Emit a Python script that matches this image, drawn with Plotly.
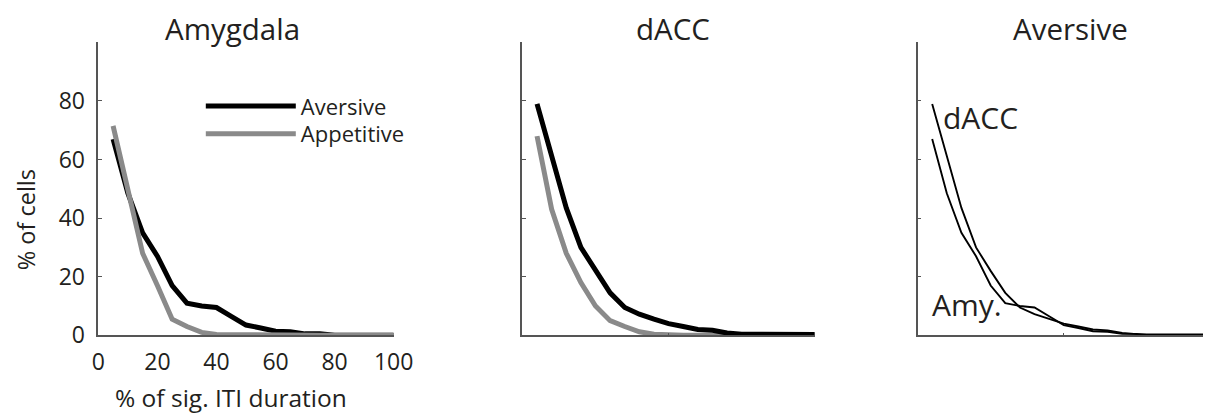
import plotly.graph_objects as go

# ---- data ----
x_pct = [5, 10, 15, 20, 25, 30, 35, 40, 45, 50, 55, 60, 65, 70, 75, 80, 85, 90, 95, 100]
amy_aversive = [67, 48.5, 35, 27, 17, 11, 10, 9.5, 6.5, 3.5, 2.5, 1.4, 1.2, 0.5, 0.5, 0, 0, 0, 0, 0]
amy_appetitive = [71.5, 49, 28, 17, 5.5, 3, 1, 0.3, 0.2, 0.1, 0, 0, 0, 0, 0, 0, 0, 0, 0, 0]
dacc_aversive = [79, 61, 43.5, 30, 22, 14.5, 9.5, 7.2, 5.5, 4, 3, 2, 1.7, 0.8, 0.4, 0.3, 0.3, 0.3, 0.3, 0.3]
dacc_appetitive = [68, 43, 28, 18, 10, 5, 3, 1.2, 0.4, 0, 0, 0, 0, 0, 0, 0, 0, 0, 0, 0]

panel_titles = ["Amygdala", "dACC", "Aversive"]
x_ticks = [0, 20, 40, 60, 80, 100]
y_ticks = [0, 20, 40, 60, 80]

# empirical mapping between figure pixels and the photographed picture
SX, BX = 0.98, 13.5
SY, BY = 0.968, 7.5
FW, FH = 1222, 423
FONT = "Open Sans"
TXT = "#231f20"
AX = "#555555"
BLACK = "#000000"
GREY = "#8a8a8a"

def px_x(p):
    return ((p - BX) / SX) / FW

def px_y(p):
    return 1 - ((p - BY) / SY) / FH

ydom = [px_y(336), px_y(42)]
xdoms = [[px_x(97), px_x(393)], [px_x(522), px_x(815)], [px_x(918), min(1.0, px_x(1211))]]

fig = go.Figure()

# Panel 1: Amygdala
fig.add_trace(go.Scatter(x=x_pct, y=amy_aversive, mode="lines", name="Aversive",
                         line=dict(color=BLACK, width=5), xaxis="x", yaxis="y", legend="legend"))
fig.add_trace(go.Scatter(x=x_pct, y=amy_appetitive, mode="lines", name="Appetitive",
                         line=dict(color=GREY, width=5), xaxis="x", yaxis="y", legend="legend2"))
# Panel 2: dACC
fig.add_trace(go.Scatter(x=x_pct, y=dacc_appetitive, mode="lines", name="Appetitive",
                         line=dict(color=GREY, width=5), xaxis="x2", yaxis="y2", showlegend=False))
fig.add_trace(go.Scatter(x=x_pct, y=dacc_aversive, mode="lines", name="Aversive",
                         line=dict(color=BLACK, width=5), xaxis="x2", yaxis="y2", showlegend=False))
# Panel 3: Aversive comparison
fig.add_trace(go.Scatter(x=x_pct, y=dacc_aversive, mode="lines", name="dACC",
                         line=dict(color=BLACK, width=1.9), xaxis="x3", yaxis="y3", showlegend=False))
fig.add_trace(go.Scatter(x=x_pct, y=amy_aversive, mode="lines", name="Amy.",
                         line=dict(color=BLACK, width=1.9), xaxis="x3", yaxis="y3", showlegend=False))

common_x = dict(range=[0, 100], showline=True, linecolor=AX, linewidth=1.5, zeroline=False,
                showgrid=False, fixedrange=True)
common_y = dict(range=[0, 100], showline=True, linecolor=AX, linewidth=1.5, zeroline=False,
                showgrid=False, ticks="inside", ticklen=4, tickcolor=AX, tickwidth=1,
                tickvals=y_ticks, fixedrange=True)

leg_common = dict(xanchor="left", yanchor="middle", bgcolor="rgba(0,0,0,0)",
                  font=dict(size=22, color=TXT, family=FONT), itemwidth=90)

fig.update_layout(
    width=FW, height=FH,
    margin=dict(l=0, r=0, t=0, b=0),
    paper_bgcolor="white", plot_bgcolor="white",
    font=dict(family=FONT, size=23, color=TXT),
    showlegend=True,
    legend=dict(x=px_x(199.7), y=px_y(106), **leg_common),
    legend2=dict(x=px_x(199.7), y=px_y(134), **leg_common),
    xaxis=dict(domain=xdoms[0], anchor="y", tickvals=x_ticks, ticks="", showticklabels=True,
               ticklabelstandoff=5, **common_x),
    yaxis=dict(domain=ydom, anchor="x", showticklabels=True, ticklabelstandoff=7, **common_y),
    xaxis2=dict(domain=xdoms[1], anchor="y2", tickvals=[50], ticks="inside", ticklen=3,
                tickcolor=AX, showticklabels=False, **common_x),
    yaxis2=dict(domain=ydom, anchor="x2", showticklabels=False, **common_y),
    xaxis3=dict(domain=xdoms[2], anchor="y3", tickvals=[50], ticks="inside", ticklen=3,
                tickcolor=AX, showticklabels=False, **common_x),
    yaxis3=dict(domain=ydom, anchor="x3", showticklabels=False, **common_y),
)

ann = []
title_pos = [(231, 28), (673, 28), (1071, 28)]
for t, (cx, cy) in zip(panel_titles, title_pos):
    ann.append(dict(text=t, x=px_x(cx), y=px_y(cy), xref="paper", yref="paper",
                    xanchor="center", yanchor="middle", showarrow=False,
                    font=dict(size=29.5, family=FONT, color=TXT)))
ann.append(dict(text="% of sig. ITI duration", x=px_x(230), y=px_y(398), xref="paper", yref="paper",
                xanchor="center", yanchor="middle", showarrow=False,
                font=dict(size=24.5, family=FONT, color=TXT)))
ann.append(dict(text="% of cells", x=px_x(24), y=px_y(220), xref="paper", yref="paper",
                xanchor="center", yanchor="middle", showarrow=False, textangle=-90,
                font=dict(size=23.5, family=FONT, color=TXT)))
ann.append(dict(text="dACC", x=px_x(981), y=px_y(117), xref="paper", yref="paper",
                xanchor="center", yanchor="middle", showarrow=False,
                font=dict(size=30, family=FONT, color=TXT)))
ann.append(dict(text="Amy.", x=px_x(968), y=px_y(305), xref="paper", yref="paper",
                xanchor="center", yanchor="middle", showarrow=False,
                font=dict(size=30, family=FONT, color=TXT)))
fig.update_layout(annotations=ann)

fig.write_html("out.html")
